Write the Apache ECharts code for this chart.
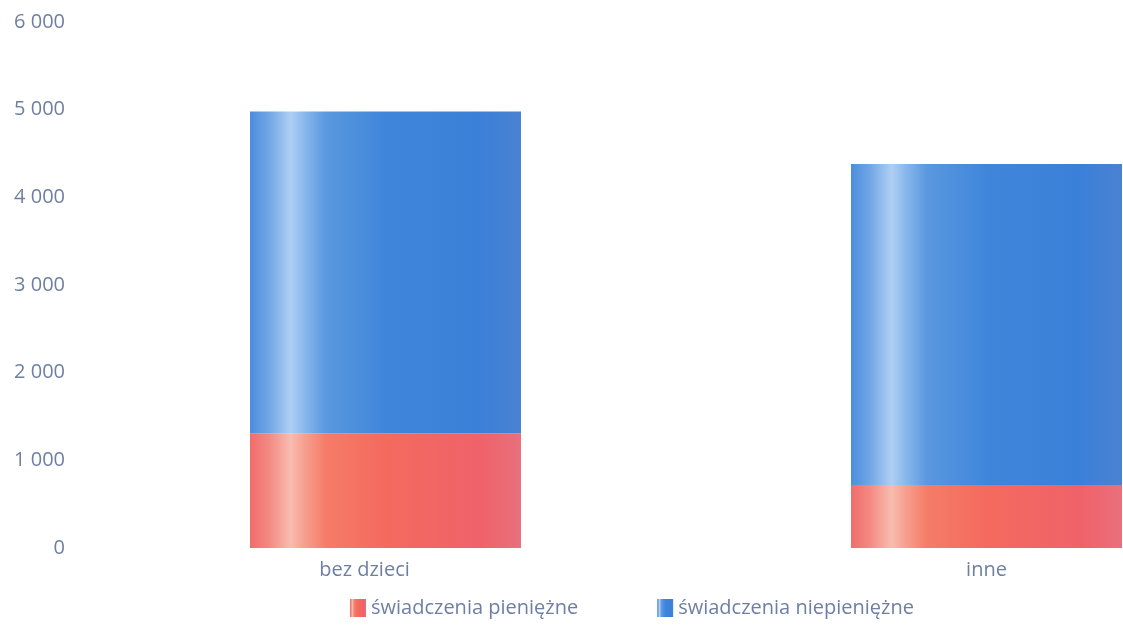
<!DOCTYPE html>
<html>
<head>
<meta charset="utf-8">
<script src="https://cdn.jsdelivr.net/npm/echarts@6/dist/echarts.min.js"></script>
<style>html,body{margin:0;padding:0;background:#fff;}#c{width:1123px;height:626px;}</style>
</head>
<body>
<div id="c"></div>
<script>
const categories = ['bez dzieci', 'inne'];
const seriesNames = ['świadczenia pieniężne', 'świadczenia niepieniężne'];
const pieniezne = [1310, 720];
const niepieniezne = [3670, 3660];
const yTicks = [0, 1000, 2000, 3000, 4000, 5000, 6000];

const txt = '#6e7fa3';
function grad(stops) {
  return new echarts.graphic.LinearGradient(0, 0, 1, 0, stops.map(s => ({offset: s[0], color: s[1]})));
}
const redGrad = grad([[0,'#f06c6c'],[0.07,'#f38a82'],[0.15,'#f8bcb0'],[0.2,'#f6a090'],[0.28,'#f57c68'],[0.5,'#f46a5e'],[0.85,'#f0626a'],[1,'#e8707c']]);
const blueGrad = grad([[0,'#4b8edc'],[0.07,'#72a6e6'],[0.15,'#aecff3'],[0.2,'#8ab8ec'],[0.28,'#5a98df'],[0.5,'#3f86db'],[0.85,'#3b80d8'],[1,'#4a82d2']]);

const chart = echarts.init(document.getElementById('c'), null, {renderer: 'canvas'});
chart.setOption({
  animation: false,
  textStyle: {fontFamily: 'Open Sans'},
  grid: {left: 85, top: 22, bottom: 78, right: -164, containLabel: false, outerBoundsMode: 'none'},
  legend: {
    bottom: 3, left: 345, itemWidth: 16, itemHeight: 18, itemGap: 79, icon: 'rect',
    textStyle: {color: txt, fontSize: 20, fontFamily: 'Open Sans'},
    data: seriesNames
  },
  xAxis: {
    type: 'category', data: categories,
    axisLine: {show: false}, axisTick: {show: false},
    axisLabel: {
      color: txt, fontSize: 20, margin: 12,
      formatter: function (v, i) { return i === 0 ? '{a|' + v + '}' : v; },
      rich: {a: {color: txt, fontSize: 20, padding: [0, 42, 0, 0]}}
    }
  },
  yAxis: {
    type: 'value', min: yTicks[0], max: yTicks[yTicks.length - 1], interval: 1000,
    axisLine: {show: false}, axisTick: {show: false}, splitLine: {show: false},
    axisLabel: {
      color: txt, fontSize: 20, margin: 20,
      formatter: function (v) { return String(v).replace(/\B(?=(\d{3})+(?!\d))/g, ' '); }
    }
  },
  series: [
    {name: seriesNames[0], type: 'bar', stack: 's', barWidth: 271, data: pieniezne, itemStyle: {color: redGrad}},
    {name: seriesNames[1], type: 'bar', stack: 's', barWidth: 271, data: niepieniezne, itemStyle: {color: blueGrad}}
  ]
});
</script>
</body>
</html>
